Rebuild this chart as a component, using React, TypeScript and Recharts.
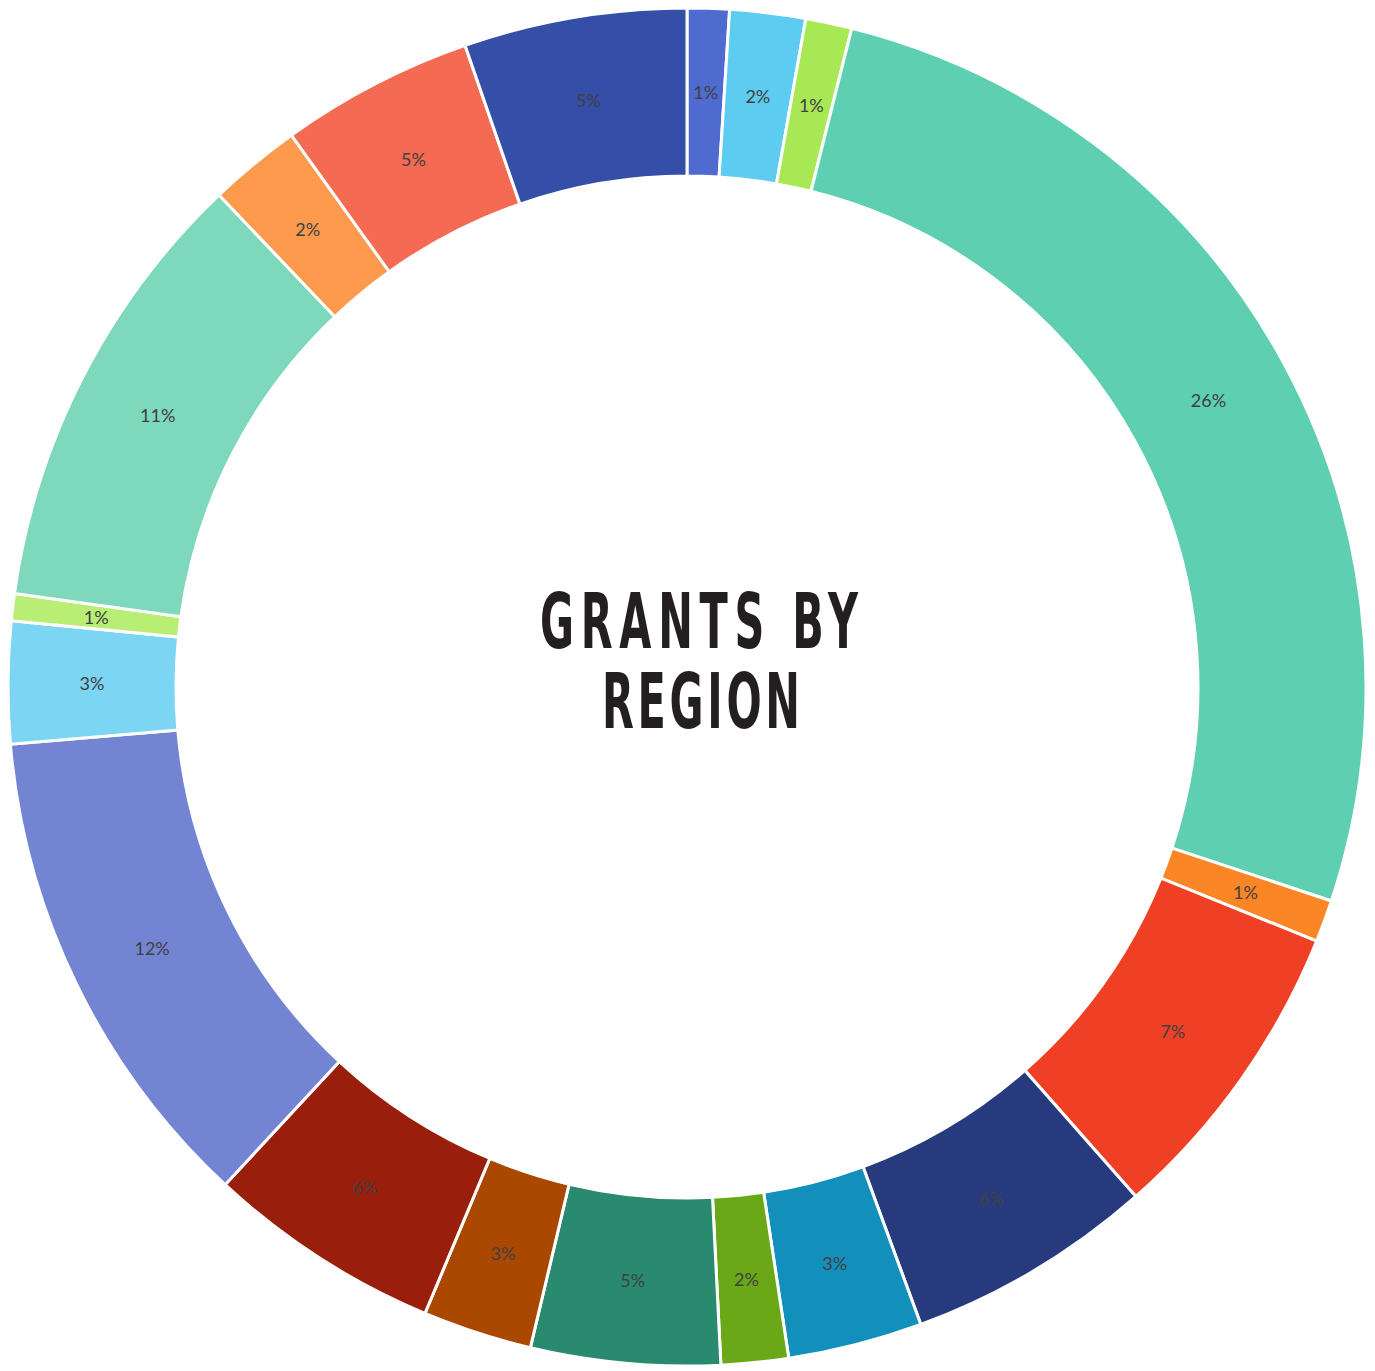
import React from 'react';
import { PieChart, Pie, Cell } from 'recharts';

const regions = [
  'Region 1', 'Region 2', 'Region 3', 'Region 4', 'Region 5', 'Region 6', 'Region 7',
  'Region 8', 'Region 9', 'Region 10', 'Region 11', 'Region 12', 'Region 13', 'Region 14',
  'Region 15', 'Region 16', 'Region 17', 'Region 18', 'Region 19',
];
const shares = [
  1.0, 1.8, 1.1, 26.2, 1.0, 7.4, 5.9, 3.2, 1.6, 4.5, 2.6, 5.6, 11.75, 2.9, 0.64, 10.7, 2.2, 4.6, 5.3,
];
const shareLabels = [
  '1%', '2%', '1%', '26%', '1%', '7%', '6%', '3%', '2%', '5%', '3%', '6%', '12%', '3%', '1%', '11%', '2%', '5%', '5%',
];
const colors = [
  '#4f6bcf', '#5ecbf0', '#a8e855', '#5ecfb1', '#fb8626', '#ef4026', '#273a7e', '#138fbc', '#6aa817',
  '#2a8a6f', '#aa4800', '#9a1e0c', '#7284d2', '#7cd5f2', '#b9ee74', '#7ed8bc', '#fd9a4e', '#f46a53',
  '#354ea8',
];

const data = regions.map((name, i) => ({ name, value: shares[i], label: shareLabels[i] }));

const RADIAN = Math.PI / 180;

const renderLabel = (props: any) => {
  const { cx, cy, midAngle, innerRadius, outerRadius, index } = props;
  const r = (innerRadius + outerRadius) / 2;
  const x = cx + r * Math.cos(-midAngle * RADIAN);
  const y = cy + r * Math.sin(-midAngle * RADIAN);
  return (
    <text
      x={x}
      y={y}
      fill="#404040"
      fontFamily="Lato, 'Open Sans', sans-serif"
      fontSize={18}
      textAnchor="middle"
      dominantBaseline="central"
    >
      {data[index].label}
    </text>
  );
};

// condensed, letter-spaced title: squeeze glyphs horizontally, then spread them
const SX = 0.64;
const SY = 1.07;

export default function App() {
  return (
    <div style={{ position: 'absolute', left: 0, top: 0, width: 1375, height: 1371, background: '#fff' }}>
      <PieChart width={1375} height={1371} margin={{ top: 0, right: 0, bottom: 0, left: 0 }}>
        <Pie
          data={data}
          dataKey="value"
          nameKey="name"
          cx={687}
          cy={687}
          innerRadius={511}
          outerRadius={679}
          startAngle={90}
          endAngle={-270}
          stroke="#ffffff"
          strokeWidth={3}
          label={renderLabel}
          labelLine={false}
          isAnimationActive={false}
        >
          {data.map((d, i) => (
            <Cell key={d.name} fill={colors[i]} />
          ))}
        </Pie>
      </PieChart>
      <svg
        width={1375}
        height={1371}
        style={{ position: 'absolute', left: 0, top: 0, pointerEvents: 'none' }}
      >
        <g transform={`translate(700 648) scale(${SX} ${SY})`}>
          <text
            fill="#231f20"
            fontFamily="'DejaVu Sans Condensed', 'DejaVu Sans', sans-serif"
            fontWeight="bold"
            fontSize={72}
            textAnchor="middle"
          >
            <tspan x={-1 / SX} y={0} textLength={318 / SX} lengthAdjust="spacing">
              GRANTS BY
            </tspan>
            <tspan x={1 / SX} y={80 / SY} textLength={198 / SX} lengthAdjust="spacing">
              REGION
            </tspan>
          </text>
        </g>
      </svg>
    </div>
  );
}
